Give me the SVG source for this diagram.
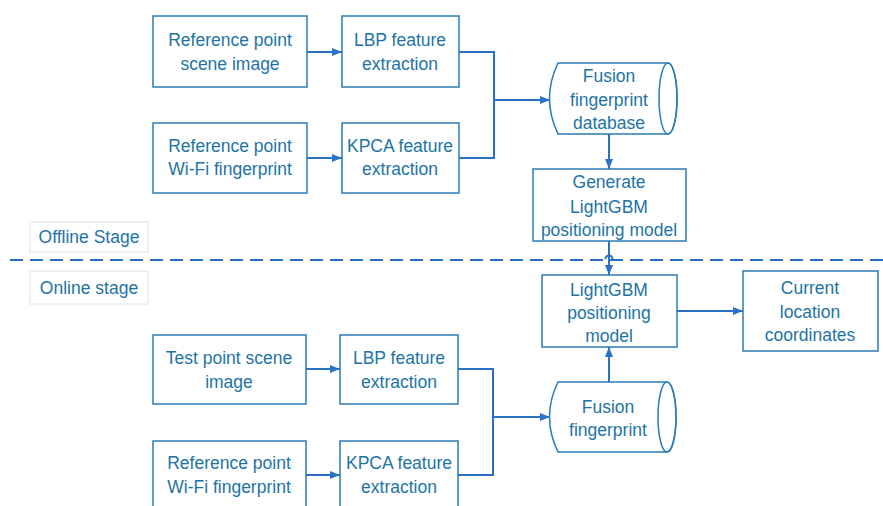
<svg xmlns="http://www.w3.org/2000/svg" width="883" height="506" viewBox="0 0 883 506">
  <defs>
    <marker id="arrow" markerWidth="10" markerHeight="8" refX="10" refY="4" orient="auto" markerUnits="userSpaceOnUse">
      <path d="M0,0 L10,4 L0,8 Z" fill="#2a72c6"/>
    </marker>
    <style>
      .box { fill: #ffffff; stroke: #2b7bb5; stroke-width: 1.5; }
      .stage { fill: #ffffff; stroke: #e6ecf3; stroke-width: 1.5; }
      .wire { fill: none; stroke: #2a72c6; stroke-width: 2; }
      .lbl { font-family: "Liberation Sans", Arial, sans-serif; font-size: 17.5px; fill: #1d74a4; text-anchor: middle; }
    </style>
  </defs>
  <rect width="883" height="506" fill="#ffffff"/>

  <!-- offline / online divider -->
  <line x1="10" y1="260" x2="883" y2="260" stroke="#2a72c6" stroke-width="2" stroke-dasharray="13 7"/>

  <!-- connectors -->
  <g id="connectors">
    <line class="wire" x1="307" y1="52" x2="342" y2="52" marker-end="url(#arrow)"/>
    <line class="wire" x1="307" y1="158" x2="342" y2="158" marker-end="url(#arrow)"/>
    <polyline class="wire" points="459,52 494,52 494,158 459,158"/>
    <line class="wire" x1="494" y1="100" x2="550" y2="100" marker-end="url(#arrow)"/>
    <line class="wire" x1="609" y1="134" x2="609" y2="169" marker-end="url(#arrow)"/>
    <line class="wire" x1="609" y1="241" x2="609" y2="275" marker-end="url(#arrow)"/>
    <path class="wire" d="M605.5,259 A3.5,3.5 0 0 1 612.5,259" stroke-width="1.5"/>
    <line class="wire" x1="677" y1="311" x2="743" y2="311" marker-end="url(#arrow)"/>
    <line class="wire" x1="306" y1="369" x2="340" y2="369" marker-end="url(#arrow)"/>
    <line class="wire" x1="306" y1="475" x2="340" y2="475" marker-end="url(#arrow)"/>
    <polyline class="wire" points="458,369 493,369 493,475 458,475"/>
    <line class="wire" x1="493" y1="417" x2="550" y2="417" marker-end="url(#arrow)"/>
    <line class="wire" x1="609" y1="382" x2="609" y2="347" marker-end="url(#arrow)"/>
  </g>

  <!-- stage labels -->
  <g id="offline-label">
    <rect class="stage" x="30" y="222" width="118" height="30"/>
    <text class="lbl" x="89" y="243">Offline Stage</text>
  </g>
  <g id="online-label">
    <rect class="stage" x="30" y="271" width="118" height="33"/>
    <text class="lbl" x="89" y="294">Online stage</text>
  </g>

  <!-- offline stage -->
  <g id="ref-scene">
    <rect class="box" x="153" y="16" width="154" height="71"/>
    <text class="lbl" x="230" y="46">Reference point</text>
    <text class="lbl" x="230" y="70">scene image</text>
  </g>
  <g id="lbp-offline">
    <rect class="box" x="342" y="16" width="117" height="71"/>
    <text class="lbl" x="400" y="46">LBP feature</text>
    <text class="lbl" x="400" y="70">extraction</text>
  </g>
  <g id="ref-wifi">
    <rect class="box" x="153" y="123" width="154" height="70"/>
    <text class="lbl" x="230" y="152">Reference point</text>
    <text class="lbl" x="230" y="175">Wi-Fi fingerprint</text>
  </g>
  <g id="kpca-offline">
    <rect class="box" x="342" y="123" width="117" height="70"/>
    <text class="lbl" x="400" y="152">KPCA feature</text>
    <text class="lbl" x="400" y="175">extraction</text>
  </g>
  <g id="fusion-db">
    <path class="box" d="M558,63 L668,63 A9,35.5 0 0 1 668,134 L558,134 Q541,98.5 558,63 Z"/>
    <ellipse cx="668" cy="98.5" rx="9" ry="35.5" fill="none" stroke="#2b7bb5" stroke-width="1.5"/>
    <text class="lbl" x="609" y="82">Fusion</text>
    <text class="lbl" x="609" y="106">fingerprint</text>
    <text class="lbl" x="609" y="129">database</text>
  </g>
  <g id="generate-model">
    <rect class="box" x="533" y="169" width="153" height="72"/>
    <text class="lbl" x="609" y="188">Generate</text>
    <text class="lbl" x="609" y="213">LightGBM</text>
    <text class="lbl" x="609" y="236">positioning model</text>
  </g>

  <!-- online stage -->
  <g id="lightgbm-model">
    <rect class="box" x="542" y="275" width="135" height="72"/>
    <text class="lbl" x="609" y="296">LightGBM</text>
    <text class="lbl" x="609" y="319">positioning</text>
    <text class="lbl" x="609" y="342">model</text>
  </g>
  <g id="current-location">
    <rect class="box" x="743" y="271" width="135" height="80"/>
    <text class="lbl" x="810" y="294">Current</text>
    <text class="lbl" x="810" y="318">location</text>
    <text class="lbl" x="810" y="341">coordinates</text>
  </g>
  <g id="test-scene">
    <rect class="box" x="153" y="335" width="153" height="69"/>
    <text class="lbl" x="229" y="364">Test point scene</text>
    <text class="lbl" x="229" y="388">image</text>
  </g>
  <g id="lbp-online">
    <rect class="box" x="340" y="335" width="118" height="69"/>
    <text class="lbl" x="399" y="364">LBP feature</text>
    <text class="lbl" x="399" y="388">extraction</text>
  </g>
  <g id="ref-wifi-online">
    <rect class="box" x="153" y="441" width="153" height="71"/>
    <text class="lbl" x="229" y="469">Reference point</text>
    <text class="lbl" x="229" y="493">Wi-Fi fingerprint</text>
  </g>
  <g id="kpca-online">
    <rect class="box" x="340" y="441" width="118" height="71"/>
    <text class="lbl" x="399" y="469">KPCA feature</text>
    <text class="lbl" x="399" y="493">extraction</text>
  </g>
  <g id="fusion-fp">
    <path class="box" d="M558,382 L667,382 A9,35 0 0 1 667,452 L558,452 Q541,417 558,382 Z"/>
    <ellipse cx="667" cy="417" rx="9" ry="35" fill="none" stroke="#2b7bb5" stroke-width="1.5"/>
    <text class="lbl" x="608" y="413">Fusion</text>
    <text class="lbl" x="608" y="436">fingerprint</text>
  </g>
</svg>
